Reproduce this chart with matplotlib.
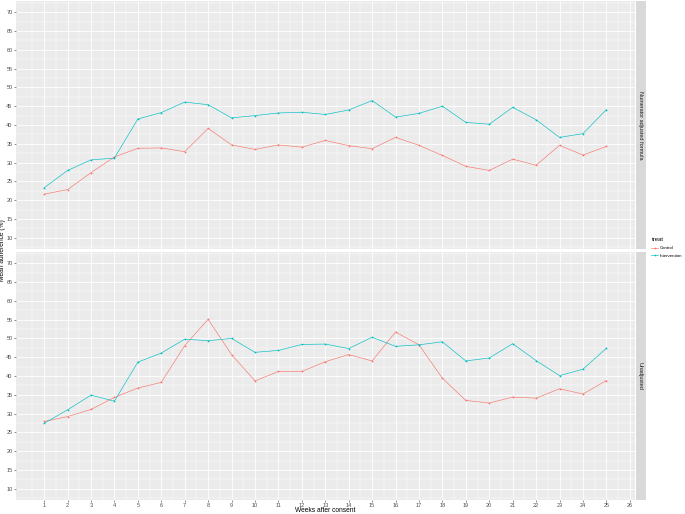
"""Adherencia media por semana: Control vs Intervention"""

import numpy as np
import matplotlib
matplotlib.use("Agg")
import matplotlib.pyplot as plt
from matplotlib.lines import Line2D

plt.rcParams['font.family'] = ['Liberation Sans', 'DejaVu Sans']

weeks = list(range(1, 26))
tick_weeks = list(range(1, 27))
y_ticks = list(range(10, 75, 5))

# Numerator adjusted formula (panel superior)
adj_control = [21.6, 22.8, 27.3, 31.5, 33.8, 33.9, 32.9, 39.1, 34.7, 33.5, 34.7, 34.1, 35.9,
               34.5, 33.7, 36.7, 34.6, 31.9, 29.0, 27.9, 30.9, 29.3, 34.6, 32.0, 34.3]
adj_interv = [23.3, 27.9, 30.7, 31.2, 41.6, 43.3, 46.1, 45.4, 41.9, 42.5, 43.2, 43.4, 42.8,
              44.0, 46.5, 42.1, 43.1, 45.0, 40.7, 40.2, 44.7, 41.4, 36.7, 37.7, 44.1]

# Unadjusted (panel inferior)
unadj_control = [27.9, 29.2, 31.1, 34.3, 36.8, 38.3, 48.1, 55.1, 45.7, 38.7, 41.2, 41.2, 43.8,
                 45.7, 44.0, 51.7, 48.3, 39.4, 33.5, 32.8, 34.4, 34.1, 36.6, 35.2, 38.8]
unadj_interv = [27.4, 31.0, 34.9, 33.3, 43.7, 46.1, 49.8, 49.4, 50.0, 46.3, 46.8, 48.4, 48.5,
                47.3, 50.3, 47.9, 48.3, 49.1, 44.0, 44.8, 48.6, 44.1, 40.1, 41.8, 47.4]

panels = [("Numerator adjusted formula", adj_control, adj_interv),
          ("Unadjusted", unadj_control, unadj_interv)]

c_control = "#F8766D"
c_interv = "#00BFC4"

W, H = 685, 514
fig = plt.figure(figsize=(W / 100, H / 100), dpi=100)

left = 16 / W
width = (634.5 - 16) / W
tops = [1, 252]      # pixel top de cada panel
ph = 248

for (name, ctrl, intv), top in zip(panels, tops):
    ax = fig.add_axes([left, 1 - (top + ph) / H, width, ph / H])
    ax.set_facecolor("#EBEBEB")
    for s in ax.spines.values():
        s.set_visible(False)
    ax.set_xlim(-0.2, 26.2)
    ax.set_ylim(7, 73)
    ax.set_xticks(tick_weeks)
    ax.set_yticks(y_ticks)
    ax.set_xticks(np.arange(0.5, 26.5, 1), minor=True)
    ax.set_yticks(np.arange(7.5, 73, 5), minor=True)
    ax.grid(which="major", color="white", linewidth=0.6)
    ax.grid(which="minor", color="white", linewidth=0.3)
    ax.set_axisbelow(True)
    ax.tick_params(which="minor", length=0)
    ax.tick_params(which="major", length=1.5, width=0.4, color="#333333",
                   labelsize=4.0, labelcolor="#4D4D4D", pad=1)
    if top == tops[0]:
        ax.tick_params(axis="x", labelbottom=False, length=0)

    ax.plot(weeks, ctrl, color=c_control, linewidth=0.45, marker="o", markersize=1.3,
            markeredgewidth=0)
    ax.plot(weeks, intv, color=c_interv, linewidth=0.45, marker="o", markersize=1.3,
            markeredgewidth=0)

    # franja del facet
    sax = fig.add_axes([635.5 / W, 1 - (top + ph) / H, 10 / W, ph / H])
    sax.set_facecolor("#D9D9D9")
    sax.set_xticks([])
    sax.set_yticks([])
    for s in sax.spines.values():
        s.set_visible(False)
    sax.text(0.5, 0.5, name, rotation=-90, ha="center", va="center",
             fontsize=4.0, color="#1A1A1A", transform=sax.transAxes)

fig.text(3 / W, 1 - 250 / H, "Mean adherence (%)", rotation=90, ha="center",
         va="center", fontsize=4.8, color="black")
fig.text((16 + 634.5) / 2 / W, 1 - 511 / H, "Weeks after consent", ha="center",
         va="center", fontsize=4.8, color="black")

handles = [Line2D([], [], color=c_control, linewidth=0.45, marker="o", markersize=1.3,
                  markeredgewidth=0),
           Line2D([], [], color=c_interv, linewidth=0.45, marker="o", markersize=1.3,
                  markeredgewidth=0)]
leg = fig.legend(handles, ["Control", "Intervention"], title="treat",
                 loc="upper left", bbox_to_anchor=(651 / W, 1 - 237 / H),
                 fontsize=3.2, title_fontsize=4.2, frameon=False,
                 handlelength=1.4, handletextpad=0.4, labelspacing=0.8,
                 borderpad=0.1, borderaxespad=0)
leg._legend_box.align = "left"

fig.savefig("out.png", dpi=100)
